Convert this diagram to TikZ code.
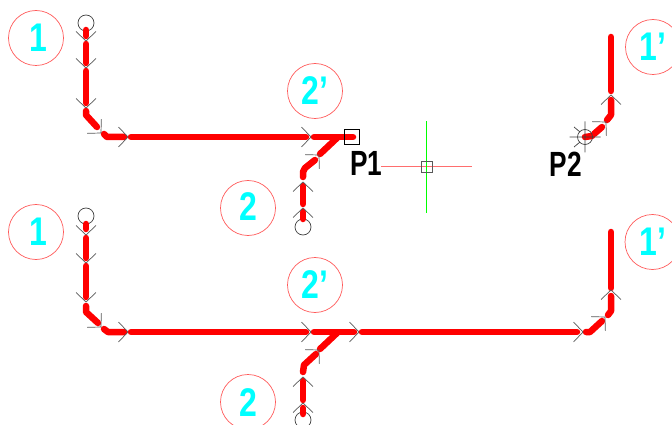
\documentclass[tikz,border=0pt]{standalone}
\usepackage{fontspec}
\setmainfont{Liberation Sans}
\definecolor{cy}{RGB}{0,255,255}
\definecolor{rd}{RGB}{255,0,0}
\definecolor{gr}{RGB}{0,255,0}
\definecolor{cir}{RGB}{255,90,90}
\definecolor{hr}{RGB}{255,110,110}
\tikzset{
  x=1pt,y=-1pt,
  pipe/.style={draw=rd,line width=6.5pt,line cap=round,line join=round},
  callout/.style={circle,draw=cir,line width=0.7pt,minimum size=55pt,inner sep=0pt},
  tag/.style={text=cy,font=\bfseries\fontsize{40}{40}\selectfont,xscale=.8,inner sep=0pt},
  ptlabel/.style={text=black,font=\bfseries\fontsize{35}{35}\selectfont,xscale=.75,inner sep=0pt},
  endring/.style={circle,draw=black!75,line width=0.7pt,minimum size=16pt,inner sep=0pt},
  snapbox/.style={rectangle,draw=black,line width=0.7pt,minimum size=15.5pt,inner sep=0pt},
  chev/.style={draw=black!65,line width=0.7pt},
  hairred/.style={fill=hr,draw=none},
  hairgreen/.style={fill=gr,draw=none},
  chevron/.pic={\draw[chev] (-9.5,-10) -- (0,0) -- (-9.5,10);}
}
\newcommand{\chv}[3]{\pic[rotate=-#3] at (#1,#2) {chevron};}
\begin{document}
\begin{tikzpicture}
\useasboundingbox (0,0) rectangle (672,425);
\clip (0,0) rectangle (672,425);
% cursor lines
\path[hairred] (381,166) rectangle (472,167);
\path[hairgreen] (426,121) rectangle (427.3,213);
% callouts
\node[callout] (c1a) at (36,38) {};   \node[tag] (t1a) at (38,38) {1};
\node[callout] (c2a) at (315,91) {};  \node[tag] (t2a) at (315,91) {2’};
\node[callout] (c3a) at (248,208) {}; \node[tag] (t3a) at (248,207) {2};
\node[callout] (c4a) at (653,47) {};  \node[tag] (t4a) at (653,47) {1’};
\node[callout] (c1b) at (36,232) {};  \node[tag] (t1b) at (38,232) {1};
\node[callout] (c2b) at (315,285) {}; \node[tag] (t2b) at (315,285) {2’};
\node[callout] (c3b) at (248,402) {}; \node[tag] (t3b) at (248,403) {2};
\node[callout] (c4b) at (652.5,242) {}; \node[tag] (t4b) at (653,242) {1’};
% rings
\node[endring] (r1) at (86,23) {};
\node[endring] (r2) at (303,227) {};
\node[endring] (r3) at (86,216) {};
\node[endring] (r4) at (303,420) {};
% top left run
\draw[pipe] (86,30) -- (86,36);
\draw[pipe] (86,44) -- (86,63);
\draw[pipe] (86,71) -- (86,103);
\draw[pipe] (86,111) -- (86,115) -- (97,127);
\draw[pipe] (104,134) -- (107,137) -- (124,137);
\draw[pipe] (131,137) -- (306,137);
\draw[pipe] (314,137) -- (353,137);
\draw[pipe] (337,138) -- (320,154);
\draw[pipe] (315,160) -- (305,168) -- (303,172) -- (303,177);
\draw[pipe] (303,186) -- (303,204);
\draw[pipe] (303,212) -- (303,219);
% top right run
\draw[pipe] (611,37) -- (611,91);
\draw[pipe] (611,100) -- (611,115) -- (607,120);
\draw[pipe] (602,127) -- (594,134);
\draw[pipe] (592,136) -- (585,137);
% bottom run
\draw[pipe] (86,224) -- (86,229);
\draw[pipe] (86,238) -- (86,258);
\draw[pipe] (86,266) -- (86,297);
\draw[pipe] (86,306) -- (86,312) -- (98,323);
\draw[pipe] (104,329) -- (108,332) -- (124,332);
\draw[pipe] (131,332) -- (306,332);
\draw[pipe] (314,332) -- (354,332);
\draw[pipe] (362,332) -- (577,332);
\draw[pipe] (586,332) -- (590,332) -- (602,321);
\draw[pipe] (608,315) -- (611,311) -- (611,296);
\draw[pipe] (611,288) -- (611,232);
\draw[pipe] (337,333) -- (320,349);
\draw[pipe] (316,354) -- (304,365) -- (303,372);
\draw[pipe] (303,381) -- (303,400);
\draw[pipe] (303,408) -- (303,414);
% chevrons
\chv{86}{41}{90}\chv{86}{68}{90}\chv{86}{108}{90}
\chv{101}{133}{45}\chv{128}{137}{0}\chv{311}{137}{0}
\chv{319}{155}{-45}\chv{303}{182}{-90}\chv{303}{208}{-90}
\chv{611}{95}{-90}\chv{606}{122}{-45}
\chv{86}{235}{90}\chv{86}{263}{90}\chv{86}{302}{90}
\chv{101}{327}{45}\chv{128}{332}{0}\chv{311}{332}{0}\chv{359}{332}{0}
\chv{319}{350}{-45}\chv{303}{377}{-90}\chv{303}{403}{-90}
\chv{583}{332}{0}\chv{605}{317}{-45}\chv{611}{290}{-90}
% P1 and cursor box
\node[snapbox] (p1box) at (352,137) {};
\node[ptlabel] (p1) at (366.5,163) {P1};
\node[rectangle,draw=black!65,line width=0.7pt,minimum size=11pt,inner sep=0pt] (cur) at (427,167) {};
% P2 marker
\node[circle,draw=black!75,line width=0.7pt,minimum size=15pt,inner sep=0pt] (p2m) at (585,137) {};
\draw[black!75,line width=0.7pt] (569.5,137) -- (600.5,137) (585,121.5) -- (585,152.5)
  (574,127) -- (580,132) (574,147) -- (580,142);
\node[ptlabel] (p2) at (566,164) {P2};
\end{tikzpicture}
\end{document}
